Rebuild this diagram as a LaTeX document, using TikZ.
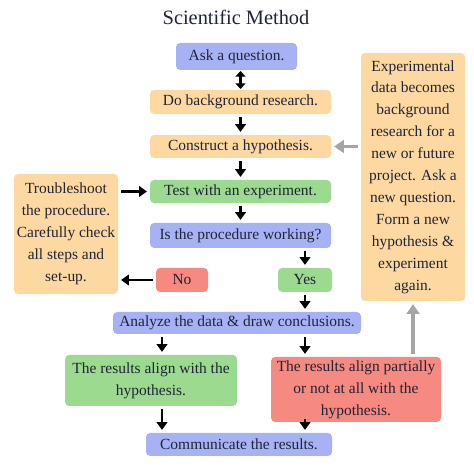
\documentclass[tikz,border=0pt]{standalone}
\usepackage{fontspec}
\setmainfont{Liberation Serif}
\usetikzlibrary{arrows.meta}
\definecolor{qblue}{RGB}{167,178,245}
\definecolor{bgorange}{RGB}{253,216,160}
\definecolor{okgreen}{RGB}{155,218,143}
\definecolor{badred}{RGB}{246,137,128}
\definecolor{inkblue}{RGB}{32,36,56}
\definecolor{loopgray}{RGB}{165,165,165}

\begin{document}
\begin{tikzpicture}[x=0.025cm, y=0.025cm,
		box/.style={rounded corners=3pt, inner sep=0pt, align=center, text=inkblue,
			font=\fontsize{11}{15.6}\selectfont},
		arr/.style={-{Triangle[width=7.5pt,length=5.5pt]}, line width=2pt,
			shorten <=2pt, shorten >=2pt},
		back/.style={-{Triangle[width=9pt,length=7pt]}, line width=2.2pt, loopgray,
			shorten <=2pt, shorten >=2pt}]
			\def\px{0.025cm}
			\useasboundingbox (0,0) rectangle (474,465);

			% title
			\node[font=\fontsize{14.5}{17}\selectfont, text=inkblue] (title) at (236,448) {Scientific Method};

			% main column
			\node[box, fill=qblue, minimum width=121*\px, minimum height=27*\px] (ask) at (236.5,408.5) {Ask a question.};
			\node[box, fill=bgorange, minimum width=181*\px, minimum height=24*\px] (bg) at (240.5,363) {Do background research.};
			\node[box, fill=bgorange, minimum width=181*\px, minimum height=23*\px] (hyp) at (240.5,318.5) {Construct a hypothesis.};
			\node[box, fill=okgreen, minimum width=181*\px, minimum height=23*\px] (test) at (240.5,273.5) {Test with an experiment.};
			\node[box, fill=qblue, minimum width=181*\px, minimum height=25*\px] (work) at (240.5,229.5) {Is the procedure working?};
			\node[box, fill=okgreen, minimum width=54*\px, minimum height=24*\px] (yes) at (305,185) {Yes};
			\node[box, fill=badred, minimum width=52*\px, minimum height=24*\px] (no) at (182,185) {No};
			\node[box, fill=qblue, minimum width=248*\px, minimum height=22*\px] (analyze) at (237,142) {Analyze the data \& draw conclusions.};
			\node[box, fill=okgreen, minimum width=172*\px, minimum height=51*\px] (align) at (151,84.5) {The results align with the\\hypothesis.};
			\node[box, fill=badred, minimum width=170*\px, minimum height=65*\px] (partial) at (356,75.5) {The results align partially\\or not at all with the\\hypothesis.};
			\node[box, fill=qblue, minimum width=186*\px, minimum height=23*\px] (comm) at (239,20.5) {Communicate the results.};

			% side boxes
			\node[box, fill=bgorange, minimum width=104*\px, minimum height=120*\px] (trouble) at (66,231)
				{Troubleshoot\\the procedure.\\Carefully check\\all steps and\\set-up.};
			\node[box, fill=bgorange, minimum width=104*\px, minimum height=248*\px] (expt) at (413,288)
				{Experimental\\data becomes\\background\\research for a\\new or future\\project. Ask a\\new question.\\Form a new\\hypothesis \&\\experiment\\again.};

			% arrows
			\draw[arr, shorten <=0.5pt, shorten >=0.5pt, {Triangle[width=7pt,length=4pt]}-{Triangle[width=7pt,length=4pt]}] (bg.north) -- (bg.north |- ask.south);
			\draw[arr] (bg) -- (hyp);
			\draw[arr] (hyp) -- (test);
			\draw[arr] (test) -- (work);
			\draw[arr] (trouble.east |- test) -- (test);
			\draw[arr] (work.south -| yes) -- (yes);
			\draw[arr] (no) -- (no -| trouble.east);
			\draw[arr] (yes) -- (yes |- analyze.north);
			\draw[arr] ([xshift=11*\px]align.north |- analyze.south) -- ([xshift=11*\px]align.north);
			\draw[arr] (analyze.south -| yes) -- (partial.north -| yes);
			\draw[arr] ([xshift=11*\px]align.south) -- ([xshift=11*\px]align.south |- comm.north);
			\draw[arr] ([yshift=6*\px]partial.south -| yes) -- (comm.north -| yes);

			% loop back
			\draw[back] (expt.west |- hyp) -- (hyp);
			\draw[back] (partial.north -| expt) -- (expt);

		\end{tikzpicture}
\end{document}
